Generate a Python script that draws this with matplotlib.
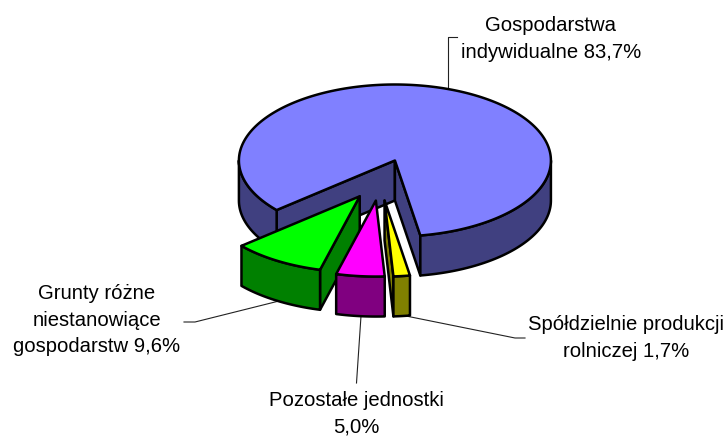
import numpy as np
import matplotlib
matplotlib.use('Agg')
import matplotlib.pyplot as plt

plt.rcParams['font.family'] = ['Liberation Sans', 'DejaVu Sans']

# values in percent, clockwise
labels = ['Gospodarstwa\nindywidualne 83,7%', 'Spółdzielnie produkcji\nrolniczej 1,7%',
          'Pozostałe jednostki\n5,0%', 'Grunty różne\nniestanowiące\ngospodarstw 9,6%']
values = [83.7, 1.7, 5.0, 9.6]
tops = ['#8080FF', '#FFFF00', '#FF00FF', '#00FF00']
sides = ['#404080', '#808000', '#800080', '#008000']
explode = [0.28, 0.265, 0.265, 0.245]

start = -130.7
cx, cy = 380, 180.5
rx, ry = 156, 76
depth = 40
lw = 1.8

fig = plt.figure(figsize=(7.26, 4.36), dpi=100)
ax = fig.add_axes([0, 0, 1, 1])
ax.set_xlim(0, 726)
ax.set_ylim(436, 0)
ax.axis('off')


def point(x0, y0, t):
    return x0 + rx * np.sin(np.radians(t)), y0 - ry * np.cos(np.radians(t))


def draw_slice(t1, t2, top, side, ex):
    mid = np.radians((t1 + t2) / 2)
    x0 = cx + ex * rx * np.sin(mid)
    y0 = cy - ex * ry * np.cos(mid)
    style = dict(edgecolor='black', linewidth=lw, joinstyle='round')

    # cut faces
    for t, vis in ((t1, np.sin(np.radians(t1)) < 0), (t2, np.sin(np.radians(t2)) > 0)):
        if vis:
            px, py = point(x0, y0, t)
            ax.fill([x0, px, px, x0], [y0, py, py + depth, y0 + depth],
                    facecolor=side, **style)

    # outer wall, only the part facing the viewer
    for lo, hi in ((-270, -90), (90, 270)):
        a, b = max(t1, lo), min(t2, hi)
        if a < b:
            ts = np.linspace(a, b, 80)
            px, py = point(x0, y0, ts)
            ax.fill(np.r_[px, px[::-1]], np.r_[py, py[::-1] + depth],
                    facecolor=side, **style)

    ts = np.linspace(t1, t2, 300)
    px, py = point(x0, y0, ts)
    ax.fill(np.r_[x0, px], np.r_[y0, py], facecolor=top, **style)


edges = start + np.r_[0, np.cumsum(values)] * 3.6
order = [0, 3, 2, 1]
for i in order:
    draw_slice(edges[i], edges[i + 1], tops[i], sides[i], explode[i])

# leader lines
leader = dict(color='#222222', linewidth=0.8, zorder=0.5)
ax.plot([447.5, 447.5, 457], [88, 37.5, 37.5], **leader)
ax.plot([184, 195, 279], [322, 322, 301], **leader)
ax.plot([361, 356.5], [316, 383], **leader)
ax.plot([406, 515, 525], [316, 338, 338], **leader)

text = dict(fontsize=14.6, color='black', ha='center', va='center', linespacing=1.47)
ax.text(551, 39, labels[0], **text)
ax.text(626, 338, labels[1], **text)
ax.text(356, 413.5, labels[2], **text)
ax.text(97, 320, labels[3], **text)

fig.savefig('out.png', dpi=100)
